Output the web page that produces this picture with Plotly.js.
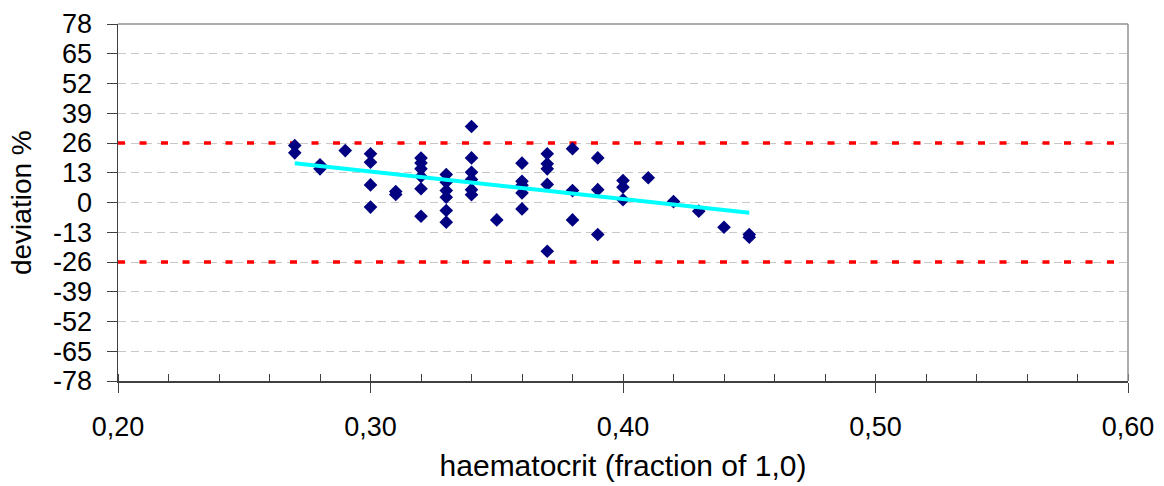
<!DOCTYPE html>
<html>
<head>
<meta charset="utf-8">
<script src="https://cdn.plot.ly/plotly-3.0.1.min.js"></script>
<style>html,body{margin:0;padding:0;background:#fff;}#chart{width:1164px;height:486px;}</style>
</head>
<body>
<div id="chart"></div>
<script>
// haematocrit (fraction) of each sample
const hctX = [
  0.27, 0.27,
  0.28, 0.28,
  0.29,
  0.30, 0.30, 0.30, 0.30,
  0.31, 0.31,
  0.32, 0.32, 0.32, 0.32, 0.32, 0.32,
  0.33, 0.33, 0.33, 0.33, 0.33, 0.33,
  0.34, 0.34, 0.34, 0.34, 0.34, 0.34,
  0.35,
  0.36, 0.36, 0.36, 0.36, 0.36,
  0.37, 0.37, 0.37, 0.37, 0.37,
  0.38, 0.38, 0.38,
  0.39, 0.39, 0.39,
  0.40, 0.40, 0.40,
  0.41,
  0.42,
  0.43,
  0.44,
  0.45, 0.45
];
// deviation % of each sample
const devY = [
  24.9, 21.7,
  16.5, 14.7,
  22.7,
  21.3, 17.6, 7.7, -2.0,
  4.8, 3.5,
  19.4, 17.3, 14.7, 11.4, 6.0, -6.0,
  12.2, 8.9, 5.2, 2.3, -3.5, -8.6,
  33.2, 19.5, 13.2, 10.1, 5.6, 3.4,
  -7.6,
  17.2, 9.3, 7.5, 4.2, -2.8,
  21.3, 16.9, 14.7, 7.9, -21.3,
  23.5, 5.2, -7.6,
  19.5, 5.6, -14.0,
  9.6, 6.7, 1.2,
  10.8,
  0.4,
  -3.8,
  -10.8,
  -14.0, -15.2
];
// linear trend line end points
const trendX = [0.27, 0.45];
const trendY = [17.2, -4.5];
// acceptance limits (±26 %)
const limitUpper = 26;
const limitLower = -26;
const xRange = [0.20, 0.60];
const yRange = [-78, 78];
const xTicks = [0.20, 0.30, 0.40, 0.50, 0.60];
const xTickText = ["0,20", "0,30", "0,40", "0,50", "0,60"];
const yTicks = [-78, -65, -52, -39, -26, -13, 0, 13, 26, 39, 52, 65, 78];

const FONT = "'Liberation Sans', Arial, sans-serif";

const traces = [
  {x: xRange, y: [limitUpper, limitUpper], mode: "lines", line: {color: "#ff0000", width: 3.5, dash: "7px,14.5px"}, hoverinfo: "skip", showlegend: false},
  {x: xRange, y: [limitLower, limitLower], mode: "lines", line: {color: "#ff0000", width: 3.5, dash: "7px,14.5px"}, hoverinfo: "skip", showlegend: false},
  {x: hctX, y: devY, mode: "markers", type: "scatter", marker: {symbol: "diamond", size: 10.5, color: "#000080", line: {width: 0}}, showlegend: false},
  {x: trendX, y: trendY, mode: "lines", line: {color: "#00ffff", width: 4}, showlegend: false}
];

const layout = {
  width: 1164, height: 486,
  margin: {l: 118, r: 36, t: 24, b: 105},
  paper_bgcolor: "#ffffff", plot_bgcolor: "#ffffff",
  font: {family: FONT, size: 27, color: "#000000"},
  showlegend: false,
  xaxis: {
    range: xRange, tickvals: xTicks, ticktext: xTickText,
    showgrid: false, zeroline: false,
    showline: true, linecolor: "#404040", linewidth: 1.5,
    ticks: "outside", ticklen: 10, tickcolor: "#404040", tickwidth: 1,
    ticklabelstandoff: 11,
    tickfont: {family: FONT, size: 27, color: "#000"},
    minor: {dtick: 0.02, tick0: 0.2, ticks: "inside", ticklen: 7, tickcolor: "#404040", tickwidth: 1, showgrid: false},
    title: {text: "haematocrit (fraction of 1,0)", font: {family: FONT, size: 30, color: "#000"}, standoff: 14}
  },
  yaxis: {
    range: yRange, tickvals: yTicks, ticktext: yTicks.map(String),
    showgrid: true, gridcolor: "#c8c8c8", gridwidth: 1, griddash: "8px,5px",
    zeroline: false,
    showline: true, linecolor: "#404040", linewidth: 1.5,
    ticks: "outside", ticklen: 10, tickcolor: "#404040", tickwidth: 1,
    ticklabelstandoff: 9,
    tickfont: {family: FONT, size: 27, color: "#000"},
    title: {text: "", font: {family: FONT, size: 28, color: "#000"}}
  },
  annotations: [
    {text: "deviation %", xref: "paper", yref: "paper", x: -0.0955, y: 0.5, xanchor: "center", yanchor: "middle",
     xshift: 0, textangle: -90, showarrow: false, font: {family: FONT, size: 28, color: "#000"}}
  ],
  shapes: [
    {type: "line", xref: "paper", yref: "paper", x0: 0, x1: 1, y0: 1, y1: 1, line: {color: "#909090", width: 1.5}},
    {type: "line", xref: "paper", yref: "paper", x0: 1, x1: 1, y0: 0, y1: 1, line: {color: "#909090", width: 1.5}}
  ]
};

Plotly.newPlot("chart", traces, layout, {displayModeBar: false, staticPlot: true});
</script>
</body>
</html>
